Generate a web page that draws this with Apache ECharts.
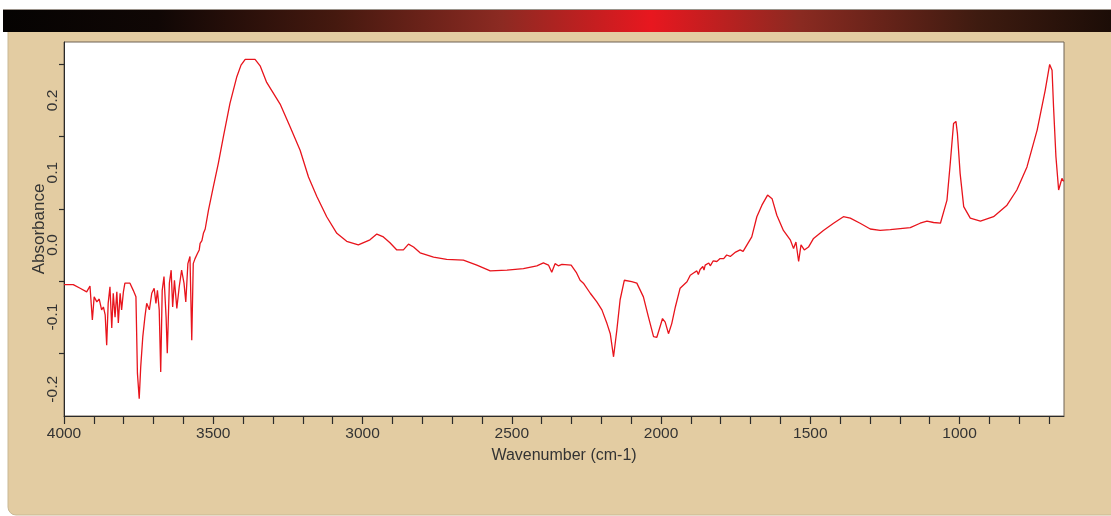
<!DOCTYPE html>
<html>
<head>
<meta charset="utf-8">
<script src="https://cdn.jsdelivr.net/npm/echarts@6/dist/echarts.min.js"></script>
<style>
  html, body { margin: 0; padding: 0; background: #fff; }
  #main { width: 1111px; height: 516px; }
</style>
</head>
<body>
<div id="main"></div>
<script>
// spectrum, [wavenumber, absorbance]
var waterVapourRegion = [
  [4000, -0.055], [3993, -0.055], [3969, -0.055], [3946, -0.060], [3924, -0.065],
  [3913, -0.057], [3905, -0.104], [3899, -0.072], [3890, -0.079], [3882, -0.075],
  [3874, -0.090], [3868, -0.086], [3862, -0.097], [3857, -0.139], [3852, -0.081],
  [3846, -0.058], [3840, -0.115], [3835, -0.067], [3829, -0.100], [3823, -0.065],
  [3818, -0.108], [3812, -0.067], [3807, -0.090], [3801, -0.065], [3796, -0.053],
  [3790, -0.051], [3779, -0.053], [3768, -0.063], [3759, -0.072], [3754, -0.178],
  [3748, -0.213], [3743, -0.169], [3736, -0.127], [3729, -0.100], [3723, -0.081],
  [3714, -0.090], [3706, -0.067], [3698, -0.060], [3692, -0.081], [3687, -0.063],
  [3681, -0.090], [3676, -0.176], [3671, -0.063], [3665, -0.044], [3658, -0.100],
  [3654, -0.150], [3647, -0.053], [3641, -0.035], [3636, -0.086], [3630, -0.049],
  [3622, -0.088], [3614, -0.058], [3606, -0.035], [3598, -0.053], [3592, -0.079],
  [3585, -0.026], [3578, -0.016], [3572, -0.132], [3567, -0.026], [3561, -0.019],
  [3553, -0.012], [3547, -0.007]
];
var ohBand = [
  [3544, 0.002], [3538, 0.006], [3533, 0.016], [3527, 0.022], [3516, 0.048],
  [3500, 0.080], [3483, 0.113], [3466, 0.150], [3444, 0.196], [3421, 0.233],
  [3407, 0.249], [3393, 0.257], [3360, 0.257], [3343, 0.248], [3321, 0.225],
  [3276, 0.195], [3243, 0.164], [3209, 0.131], [3181, 0.094], [3153, 0.067],
  [3120, 0.039], [3086, 0.016], [3053, 0.005], [3014, 0.000]
];
var midRegion = [
  [2975, 0.007], [2952, 0.015], [2930, 0.011], [2908, 0.003], [2885, -0.007],
  [2863, -0.007], [2846, 0.001], [2829, -0.003], [2807, -0.011], [2762, -0.017],
  [2718, -0.020], [2662, -0.021], [2617, -0.028], [2572, -0.036], [2516, -0.035],
  [2461, -0.033], [2416, -0.029], [2394, -0.025], [2377, -0.028], [2366, -0.038],
  [2355, -0.026], [2344, -0.029], [2332, -0.027], [2301, -0.028], [2284, -0.038],
  [2271, -0.049], [2260, -0.053], [2237, -0.067], [2215, -0.079], [2198, -0.090],
  [2181, -0.109], [2170, -0.123], [2159, -0.155], [2148, -0.118], [2137, -0.076],
  [2123, -0.049], [2098, -0.051], [2081, -0.053], [2059, -0.072], [2042, -0.100],
  [2025, -0.127], [2014, -0.128], [2003, -0.113], [1995, -0.102], [1986, -0.107],
  [1975, -0.123], [1964, -0.109], [1952, -0.086], [1936, -0.060], [1913, -0.051],
  [1902, -0.042], [1891, -0.039], [1880, -0.036], [1875, -0.041], [1869, -0.034],
  [1860, -0.030], [1856, -0.035], [1852, -0.028], [1840, -0.025], [1835, -0.029],
  [1825, -0.022], [1813, -0.023], [1802, -0.019], [1790, -0.019], [1780, -0.014],
  [1768, -0.016], [1750, -0.010], [1735, -0.007], [1725, -0.009], [1712, 0.000]
];
var fingerprint = [
  [1696, 0.011], [1679, 0.039], [1662, 0.055], [1643, 0.069], [1628, 0.064],
  [1612, 0.041], [1590, 0.020], [1567, 0.007], [1556, -0.005], [1548, 0.004],
  [1539, -0.023], [1531, 0.000], [1520, -0.007], [1506, -0.003], [1489, 0.009],
  [1456, 0.020], [1422, 0.030], [1389, 0.039], [1366, 0.037], [1333, 0.030],
  [1299, 0.022], [1266, 0.020], [1232, 0.021], [1165, 0.024], [1132, 0.030],
  [1109, 0.033], [1087, 0.031], [1064, 0.030], [1042, 0.062], [1031, 0.113],
  [1020, 0.168], [1012, 0.171], [1007, 0.154], [998, 0.099], [986, 0.053],
  [964, 0.037], [930, 0.033], [886, 0.039], [841, 0.055], [808, 0.076],
  [774, 0.108], [740, 0.159], [713, 0.214], [698, 0.250], [690, 0.242],
  [685, 0.191], [677, 0.122], [668, 0.076], [662, 0.074], [657, 0.092], [651, 0.088]
];

var xLabelValues = [1000, 1500, 2000, 2500, 3000, 3500, 4000];
var xTickValues = [];
for (var t = 700; t <= 4000; t += 100) xTickValues.push(t);
var yLabelValues = [-0.2, -0.1, 0.0, 0.1, 0.2];
var yTickValues = [-0.15, -0.05, 0.05, 0.15, 0.25];

var spectrum = waterVapourRegion.concat(ohBand, midRegion, fingerprint);

var myChart = echarts.init(document.getElementById('main'));

var labelFont = { color: '#333333', fontFamily: 'Liberation Sans', fontSize: 15.5 };

var option = {
  animation: false,
  backgroundColor: '#ffffff',
  graphic: {
    elements: [
      {
        type: 'rect', z: -10, silent: true,
        shape: { x: 8, y: 31, width: 1110, height: 484, r: [0, 0, 0, 8] },
        style: { fill: '#e3cca2', stroke: '#c9b894', lineWidth: 1 }
      },
      {
        type: 'rect', z: -9, silent: true,
        shape: { x: 3, y: 9, width: 1108, height: 23 },
        style: {
          fill: new echarts.graphic.LinearGradient(0, 0, 1, 0, [
            { offset: 0, color: '#050302' },
            { offset: 0.14, color: '#100705' },
            { offset: 0.3, color: '#45190f' },
            { offset: 0.45, color: '#8c2a22' },
            { offset: 0.585, color: '#e8171f' },
            { offset: 0.72, color: '#8a2a21' },
            { offset: 0.88, color: '#3e1b10' },
            { offset: 1, color: '#1c0d07' }
          ])
        }
      },
      {
        type: 'line', z: -8, silent: true,
        shape: { x1: 3, y1: 9.5, x2: 1111, y2: 9.5 },
        style: { stroke: '#9a928a', lineWidth: 1 }
      }
    ]
  },
  grid: {
    left: 64, right: 47, top: 42, bottom: 100,
    show: true,
    backgroundColor: '#ffffff',
    borderColor: '#6e6254',
    borderWidth: 1
  },
  xAxis: {
    type: 'value',
    inverse: true,
    min: 650,
    max: 4000,
    name: 'Wavenumber (cm-1)',
    nameLocation: 'middle',
    nameGap: 32,
    nameMoveOverlap: false,
    nameTextStyle: { color: '#333333', fontFamily: 'Liberation Sans', fontSize: 16 },
    axisLine: { show: true, onZero: false, lineStyle: { color: '#2a2a2a', width: 1 } },
    axisTick: { show: true, inside: false, length: 8, customValues: xTickValues, lineStyle: { color: '#2a2a2a', width: 1.2 } },
    axisLabel: Object.assign({
      margin: 10, customValues: xLabelValues,
      formatter: function (v) { return String(v); }
    }, labelFont),
    splitLine: { show: false }
  },
  yAxis: {
    type: 'value',
    min: -0.237,
    max: 0.281,
    name: 'Absorbance',
    nameLocation: 'middle',
    nameGap: 16,
    nameMoveOverlap: false,
    nameTextStyle: { color: '#333333', fontFamily: 'Liberation Sans', fontSize: 17 },
    axisLine: { show: true, onZero: false, lineStyle: { color: '#2a2a2a', width: 1 } },
    axisTick: { show: true, inside: false, length: 5, customValues: yTickValues, lineStyle: { color: '#2a2a2a', width: 1.2 } },
    axisLabel: Object.assign({
      rotate: 90, margin: 3, customValues: yLabelValues,
      formatter: function (v) { return v.toFixed(1); }
    }, labelFont),
    splitLine: { show: false }
  },
  series: [{
    name: 'Absorbance',
    type: 'line',
    data: spectrum,
    showSymbol: false,
    symbol: 'none',
    lineStyle: { color: '#e8141c', width: 1.3 },
    itemStyle: { color: '#e8141c' }
  }]
};

myChart.setOption(option);
</script>
</body>
</html>
